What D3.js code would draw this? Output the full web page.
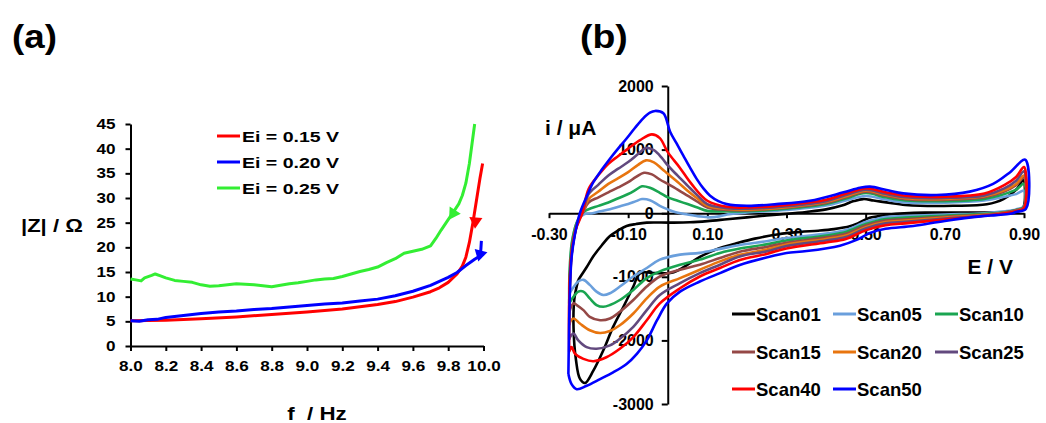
<!DOCTYPE html>
<html>
<head>
<meta charset="utf-8">
<script src="https://cdn.jsdelivr.net/npm/d3@7"></script>
<style>
  body { margin: 0; background: #fff; }
  svg text { font-family: "Liberation Sans", Arial, sans-serif; font-weight: bold; fill: #000; }
</style>
</head>
<body>
<svg id="chart" width="1046" height="423"></svg>
<script>
// ---------- panel (a): |Z| vs f ----------
const fTicks = [8.0, 8.2, 8.4, 8.6, 8.8, 9.0, 9.2, 9.4, 9.6, 9.8, 10.0];
const zTicks = [0, 5, 10, 15, 20, 25, 30, 35, 40, 45];
const legendA = ["Ei = 0.15 V", "Ei = 0.20 V", "Ei = 0.25 V"];
const colorsA = ["#ff0000", "#0000ff", "#33ee33"];

const zEi015 = [[8.0,5.1],[8.2,5.2],[8.4,5.5],[8.6,5.9],[8.8,6.4],[9.0,6.9],[9.2,7.5],[9.4,8.4],
  [9.5,9.0],[9.6,9.9],[9.7,11.0],[9.75,11.8],[9.8,12.9],[9.85,14.6],[9.88,16.2],[9.9,18.0],
  [9.92,21.0],[9.94,25.0],[9.96,29.5],[9.98,34.0],[9.995,37.0]];
const zEi020 = [[8.0,5.1],[8.05,5.0],[8.1,5.3],[8.15,5.4],[8.2,5.8],[8.3,6.2],[8.4,6.6],[8.5,6.9],
  [8.6,7.1],[8.7,7.4],[8.8,7.6],[8.9,7.9],[9.0,8.2],[9.1,8.5],[9.2,8.7],[9.3,9.1],[9.4,9.5],
  [9.5,10.2],[9.6,11.1],[9.7,12.3],[9.8,13.9],[9.85,14.9],[9.9,16.3],[9.95,17.6],[10.0,18.7]];
const zEi020Start = [[9.988,21.3],[9.985,19.6],[9.982,18.6]];
const zEi025 = [[8.0,13.6],[8.03,13.4],[8.06,13.2],[8.08,13.8],[8.12,14.3],[8.14,14.6],[8.17,14.2],
  [8.2,13.8],[8.25,13.3],[8.3,13.1],[8.35,12.9],[8.4,12.4],[8.45,12.1],[8.5,12.2],[8.55,12.4],
  [8.6,12.6],[8.65,12.5],[8.7,12.4],[8.75,12.2],[8.8,12.0],[8.85,12.3],[8.9,12.6],[8.95,12.8],
  [9.0,13.1],[9.05,13.4],[9.1,13.6],[9.15,13.7],[9.2,14.1],[9.25,14.6],[9.3,15.1],[9.35,15.5],
  [9.4,16.0],[9.45,16.9],[9.5,17.7],[9.55,18.8],[9.6,19.2],[9.65,19.6],[9.7,20.3],[9.73,21.8],
  [9.76,23.5],[9.8,25.6],[9.83,27.2],[9.86,28.8],[9.88,30.5],[9.9,33.0],[9.92,37.0],[9.935,41.0],
  [9.95,45.0]];
// scan direction arrows: [position, pointing towards]
const arrowsA = [
  { color: "#ff0000", at: [9.955, 25.3], to: [9.95, 23.0] },
  { color: "#0000ff", at: [9.981, 18.6], to: [9.974, 17.6] },
  { color: "#33ee33", at: [9.828, 26.9], to: [9.81, 25.9] }
];

// ---------- panel (b): cyclic voltammograms ----------
const eTicks = [-0.3, -0.1, 0.1, 0.3, 0.5, 0.7, 0.9];
const iTicks = [-3000, -2000, -1000, 0, 1000, 2000];
const scanNames = ["Scan01", "Scan05", "Scan10", "Scan15", "Scan20", "Scan25", "Scan40", "Scan50"];
const scanColors = ["#000000", "#6a9fdc", "#1aa551", "#954846", "#e8750f", "#62497e", "#ff0000", "#0000ff"];

const scan01 = [[-0.226,-1048],[-0.205,-850],[-0.188,-677],[-0.166,-500],[-0.146,-360],[-0.125,-270],
  [-0.104,-201],[-0.08,-170],[-0.053,-148],[0.006,-148],[0.056,-143],[0.1,-125],[0.15,-95],[0.2,-65],
  [0.25,-35],[0.3,-10],[0.35,20],[0.4,60],[0.44,120],[0.47,190],[0.494,222],[0.52,200],[0.562,160],
  [0.6,130],[0.637,116],[0.721,116],[0.806,140],[0.848,222],[0.882,381],[0.898,520],
  [0.9,120],[0.89,40],[0.87,15],[0.83,12],[0.75,10],[0.65,10],[0.56,-20],[0.53,-50],[0.51,-70],
  [0.48,-160],[0.46,-206],[0.42,-250],[0.38,-275],[0.334,-295],[0.28,-330],[0.22,-400],[0.17,-480],
  [0.13,-550],[0.08,-690],[0.04,-850],[0.01,-935],[-0.03,-942],[-0.07,-945],[-0.087,-1153],
  [-0.112,-1471],[-0.138,-1788],[-0.163,-2159],[-0.188,-2476],[-0.209,-2670],[-0.222,-2600],
  [-0.232,-2300],[-0.238,-1800],[-0.236,-1350],[-0.226,-1048]];
const scan05 = [[-0.247,-1250],[-0.246,-800],[-0.24,-400],[-0.228,-120],[-0.213,-20],[-0.19,0],
  [-0.17,30],[-0.146,63],[-0.12,110],[-0.1,143],[-0.08,190],[-0.065,222],[-0.045,205],[-0.02,116],
  [0,60],[0.02,15],[0.05,-20],[0.08,-50],[0.107,-65],[0.13,-50],[0.15,-20],[0.2,10],[0.3,50],
  [0.4,120],[0.45,200],[0.5,270],[0.55,215],[0.6,170],[0.7,165],[0.8,200],[0.85,260],[0.88,300],
  [0.9,354],
  [0.9,110],[0.88,60],[0.85,30],[0.8,0],[0.7,-20],[0.6,-45],[0.55,-60],[0.5,-140],[0.45,-265],
  [0.4,-320],[0.3,-390],[0.25,-440],[0.182,-500],[0.132,-561],[0.081,-624],[0.031,-651],
  [-0.02,-730],[-0.053,-862],[-0.087,-995],[-0.121,-1153],[-0.146,-1259],[-0.163,-1286],
  [-0.18,-1233],[-0.197,-1127],[-0.213,-1048],[-0.226,-1074],[-0.24,-1180],[-0.247,-1250]];
const scan10 = [[-0.249,-1420],[-0.248,-900],[-0.242,-450],[-0.23,-150],[-0.213,20],[-0.2,63],
  [-0.175,115],[-0.15,169],[-0.125,235],[-0.1,302],[-0.08,370],[-0.065,423],[-0.045,400],
  [-0.02,320],[0,249],[0.025,195],[0.05,143],[0.075,90],[0.1,37],[0.15,30],[0.2,30],[0.3,70],
  [0.4,145],[0.45,230],[0.5,317],[0.55,250],[0.6,200],[0.7,190],[0.8,225],[0.85,300],[0.88,370],
  [0.9,460],
  [0.9,100],[0.88,50],[0.85,15],[0.8,-10],[0.7,-40],[0.6,-70],[0.55,-90],[0.5,-170],[0.45,-295],
  [0.4,-350],[0.3,-430],[0.25,-490],[0.182,-555],[0.132,-624],[0.081,-730],[0.031,-810],
  [-0.02,-915],[-0.053,-1021],[-0.087,-1206],[-0.121,-1365],[-0.146,-1444],[-0.163,-1471],
  [-0.18,-1444],[-0.197,-1339],[-0.213,-1233],[-0.226,-1233],[-0.24,-1330],[-0.249,-1420]];
const scan15 = [[-0.248,-1560],[-0.247,-1000],[-0.241,-500],[-0.228,-150],[-0.213,30],[-0.2,169],
  [-0.175,250],[-0.15,328],[-0.125,405],[-0.1,487],[-0.08,570],[-0.06,635],[-0.04,610],
  [-0.02,530],[0,460],[0.025,370],[0.05,275],[0.075,180],[0.1,90],[0.15,50],[0.2,45],[0.3,85],
  [0.4,160],[0.45,250],[0.5,339],[0.55,275],[0.6,220],[0.7,210],[0.8,250],[0.85,340],[0.88,440],
  [0.9,560],
  [0.9,95],[0.88,45],[0.85,10],[0.8,-20],[0.7,-55],[0.6,-95],[0.55,-115],[0.5,-195],[0.45,-325],
  [0.4,-380],[0.3,-465],[0.25,-530],[0.182,-605],[0.132,-704],[0.081,-810],[0.031,-889],
  [-0.02,-995],[-0.053,-1153],[-0.087,-1365],[-0.121,-1550],[-0.146,-1656],[-0.171,-1683],
  [-0.197,-1630],[-0.213,-1524],[-0.23,-1444],[-0.238,-1418],[-0.246,-1500],[-0.248,-1560]];
const scan20 = [[-0.248,-1760],[-0.247,-1100],[-0.241,-550],[-0.228,-150],[-0.213,40],[-0.2,222],
  [-0.175,340],[-0.15,460],[-0.125,550],[-0.1,645],[-0.075,760],[-0.055,831],[-0.035,800],
  [-0.015,700],[0,619],[0.025,490],[0.05,354],[0.075,230],[0.1,116],[0.15,65],[0.2,55],[0.3,95],
  [0.4,175],[0.45,265],[0.5,354],[0.55,290],[0.6,235],[0.7,225],[0.8,265],[0.85,360],[0.88,460],
  [0.9,592],
  [0.9,90],[0.88,40],[0.85,5],[0.8,-30],[0.7,-70],[0.6,-115],[0.55,-140],[0.5,-220],[0.45,-350],
  [0.4,-405],[0.3,-492],[0.25,-570],[0.182,-655],[0.132,-757],[0.081,-889],[0.031,-1021],
  [-0.02,-1153],[-0.053,-1339],[-0.087,-1577],[-0.121,-1762],[-0.146,-1852],[-0.171,-1884],
  [-0.197,-1841],[-0.222,-1735],[-0.238,-1656],[-0.246,-1700],[-0.248,-1760]];
const scan25 = [[-0.249,-1990],[-0.248,-1200],[-0.242,-600],[-0.229,-180],[-0.213,50],[-0.2,302],
  [-0.175,450],[-0.15,593],[-0.125,700],[-0.1,804],[-0.075,930],[-0.055,1026],[-0.035,990],
  [-0.015,870],[0,751],[0.025,590],[0.05,434],[0.075,280],[0.1,143],[0.15,80],[0.2,70],[0.3,110],
  [0.4,190],[0.45,285],[0.5,370],[0.55,305],[0.6,250],[0.7,240],[0.8,280],[0.85,390],[0.88,510],
  [0.9,660],
  [0.9,85],[0.88,35],[0.85,0],[0.8,-35],[0.7,-85],[0.6,-135],[0.55,-160],[0.5,-240],[0.45,-375],
  [0.4,-430],[0.3,-518],[0.25,-600],[0.182,-680],[0.132,-810],[0.081,-942],[0.031,-1100],
  [-0.02,-1286],[-0.053,-1524],[-0.087,-1788],[-0.121,-1974],[-0.146,-2079],[-0.18,-2132],
  [-0.205,-2106],[-0.226,-2000],[-0.238,-1894],[-0.246,-1940],[-0.249,-1990]];
const scan40 = [[-0.249,-2180],[-0.249,-1400],[-0.244,-700],[-0.232,-250],[-0.216,0],[-0.2,381],
  [-0.175,600],[-0.15,778],[-0.125,900],[-0.1,1016],[-0.07,1150],[-0.04,1240],[-0.02,1180],
  [0,960],[0.03,720],[0.06,460],[0.1,196],[0.15,100],[0.2,90],[0.3,130],[0.4,210],[0.45,310],
  [0.5,391],[0.55,330],[0.6,275],[0.7,260],[0.8,310],[0.85,440],[0.88,570],[0.9,725],
  [0.9,80],[0.88,30],[0.85,-5],[0.8,-40],[0.7,-100],[0.6,-160],[0.55,-190],[0.5,-270],[0.45,-405],
  [0.4,-460],[0.3,-555],[0.25,-640],[0.182,-735],[0.132,-862],[0.081,-995],[0.031,-1180],
  [-0.02,-1418],[-0.053,-1683],[-0.087,-1947],[-0.121,-2132],[-0.155,-2265],[-0.188,-2328],
  [-0.213,-2291],[-0.234,-2212],[-0.243,-2106],[-0.249,-2180]];
const scan50 = [[-0.251,-2529],[-0.249,-1700],[-0.247,-1200],[-0.243,-700],[-0.235,-350],
  [-0.222,0],[-0.205,260],[-0.188,487],[-0.166,690],[-0.146,857],[-0.125,1020],[-0.104,1175],
  [-0.083,1340],[-0.062,1492],[-0.045,1580],[-0.032,1608],[-0.011,1571],[0.006,1281],[0.022,1100],
  [0.039,910],[0.056,720],[0.073,540],[0.09,390],[0.107,275],[0.128,190],[0.149,143],[0.2,116],
  [0.275,143],[0.359,196],[0.444,328],[0.486,400],[0.511,418],[0.553,365],[0.595,312],[0.679,286],
  [0.763,339],[0.822,460],[0.865,645],[0.903,841],
  [0.905,70],[0.88,20],[0.865,-10],[0.83,-30],[0.79,-50],[0.7,-122],[0.62,-201],[0.55,-245],
  [0.511,-310],[0.477,-420],[0.435,-510],[0.351,-595],[0.3,-625],[0.267,-670],[0.182,-815],
  [0.132,-942],[0.081,-1074],[0.031,-1233],[-0.002,-1418],[-0.027,-1683],[-0.053,-2000],
  [-0.078,-2212],[-0.104,-2371],[-0.138,-2503],[-0.171,-2609],[-0.205,-2714],[-0.23,-2767],
  [-0.243,-2688],[-0.251,-2529]];
const scans = [scan01, scan05, scan10, scan15, scan20, scan25, scan40, scan50];

const svg = d3.select("#chart");

// Helper for bold text, optionally stretched horizontally like the source image
function addText(x, y, str, size, sx, anchor) {
  return svg.append("text")
    .attr("transform", `translate(${x},${y}) scale(${sx},1)`)
    .attr("text-anchor", anchor || "start")
    .style("font-size", size + "px")
    .style("white-space", "pre")
    .text(str);
}

// Style an axis group: thick black lines, bold labels
function styleAxis(g, size, sx) {
  g.attr("font-family", null).attr("font-size", null);
  g.select(".domain").attr("stroke", "#000").attr("stroke-width", 2);
  g.selectAll(".tick line").attr("stroke", "#000").attr("stroke-width", 2);
  g.selectAll(".tick text")
    .style("font-size", size + "px")
    .attr("fill", "#000")
    .each(function() {
      const t = d3.select(this);
      const x = +t.attr("x") || 0;
      t.attr("x", x / sx).attr("transform", `scale(${sx},1)`);
    });
}

// ===== Panel (a) =====
const xA = d3.scaleLinear().domain([8, 10]).range([130.5, 483.5]);
const yA = d3.scaleLinear().domain([0, 45]).range([346, 124]);
const sxA = 1.24;

const gxA = svg.append("g")
  .attr("transform", `translate(0,${yA(0)})`)
  .call(d3.axisBottom(xA).tickValues(fTicks).tickFormat(d3.format(".1f"))
    .tickSize(5).tickPadding(10.5).tickSizeOuter(0));
styleAxis(gxA, 13.8, sxA);

const gyA = svg.append("g")
  .attr("transform", `translate(${xA(8)},0)`)
  .call(d3.axisLeft(yA).tickValues(zTicks).tickSize(5).tickPadding(10).tickSizeOuter(0));
styleAxis(gyA, 13.8, sxA);

const lineA = d3.line().x(d => xA(d[0])).y(d => yA(d[1]));
[[zEi015, 0], [zEi020, 1], [zEi020Start, 1], [zEi025, 2]].forEach(([data, k]) => {
  svg.append("path")
    .datum(data)
    .attr("d", lineA)
    .attr("fill", "none")
    .attr("stroke", colorsA[k])
    .attr("stroke-width", 3)
    .attr("stroke-linejoin", "round");
});

// direction arrows
arrowsA.forEach(a => {
  const px = xA(a.at[0]), py = yA(a.at[1]);
  const dx = xA(a.to[0]) - px, dy = yA(a.to[1]) - py;
  const angle = Math.atan2(dx, -dy) * 180 / Math.PI;
  svg.append("path")
    .attr("d", d3.symbol().type(d3.symbolTriangle).size(75)())
    .attr("transform", `translate(${px},${py}) rotate(${angle})`)
    .attr("fill", a.color);
});

// legend (a)
legendA.forEach((label, i) => {
  const y = 136 + i * 26;
  svg.append("line")
    .attr("x1", 217).attr("x2", 240).attr("y1", y).attr("y2", y)
    .attr("stroke", colorsA[i]).attr("stroke-width", 3);
  addText(242, y + 5.6, label, 15.5, 1.26);
});

addText(21, 232, "|Z| / Ω", 19, 1.16);
addText(317, 420, "f  / Hz", 18.6, 1.2, "middle");
addText(12, 48, "(a)", 34, 1.08);

// ===== Panel (b) =====
const xB = d3.scaleLinear().domain([-0.3, 0.9]).range([549, 1024]);
const yB = d3.scaleLinear().domain([-3000, 2000]).range([404, 86]);

const gxB = svg.append("g")
  .attr("transform", `translate(0,${yB(0)})`)
  .call(d3.axisBottom(xB).tickValues(eTicks).tickFormat(d => d.toFixed(2))
    .tickSize(5).tickPadding(10).tickSizeOuter(0));
styleAxis(gxB, 16, 1);

const gyB = svg.append("g")
  .attr("transform", `translate(${xB(0)},0)`)
  .call(d3.axisLeft(yB).tickValues(iTicks).tickFormat(d => String(d))
    .tickSize(6).tickPadding(8).tickSizeOuter(0));
styleAxis(gyB, 16, 1);

const lineB = d3.line().x(d => xB(d[0])).y(d => yB(d[1])).curve(d3.curveCatmullRom.alpha(0.5));
scans.forEach((data, k) => {
  svg.append("path")
    .datum(data)
    .attr("d", lineB)
    .attr("fill", "none")
    .attr("stroke", scanColors[k])
    .attr("stroke-width", 2.6)
    .attr("stroke-linejoin", "round");
});

// legend (b): 3 columns
const legColX = [732, 833, 935];
const legRowY = [314, 352, 389];
scanNames.forEach((name, i) => {
  const cx = legColX[i % 3], cy = legRowY[Math.floor(i / 3)];
  svg.append("line")
    .attr("x1", cx).attr("x2", cx + 23).attr("y1", cy).attr("y2", cy)
    .attr("stroke", scanColors[i]).attr("stroke-width", 3);
  addText(cx + 24, cy + 6.7, name, 18.5, 1);
});

addText(545, 135, "i / μA", 21, 1);
addText(1013, 274, "E / V", 21, 1, "end");
addText(580, 48, "(b)", 34, 1.1);
</script>
</body>
</html>
